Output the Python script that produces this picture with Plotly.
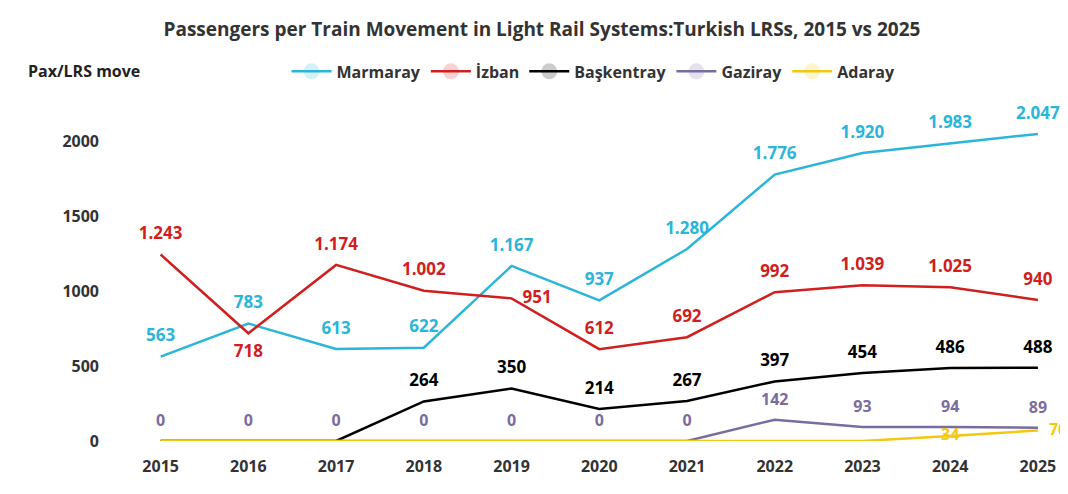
import plotly.graph_objects as go

years = list(range(2015, 2026))
marmaray = [563, 783, 613, 622, 1167, 937, 1280, 1776, 1920, 1983, 2047]
izban = [1243, 718, 1174, 1002, 951, 612, 692, 992, 1039, 1025, 940]
baskentray = [0, 0, 0, 264, 350, 214, 267, 397, 454, 486, 488]
gaziray = [0, 0, 0, 0, 0, 0, 0, 142, 93, 94, 89]
adaray = [0, 0, 0, 0, 0, 0, 0, 0, 0, 34, 70]


def fmt(v):
    return f"{v:,}".replace(",", ".")


series = [
    ("Marmaray", marmaray, "#2BB5DA", ["top center"] * 11, [fmt(v) for v in marmaray], 17),
    ("İzban", izban, "#D11E1E",
     ["top center", "bottom center", "top center", "top center", "middle right", "top center",
      "top center", "top center", "top center", "top center", "top center"],
     [fmt(v) for v in izban], 17),
    ("Başkentray", baskentray, "black", ["top center"] * 11,
     [fmt(v) if i >= 3 else "" for i, v in enumerate(baskentray)], 17),
    ("Gaziray", gaziray, "#7A6C9E", ["top center"] * 11, [fmt(v) for v in gaziray], 16),
    ("Adaray", adaray, "#F2C811", ["middle center"] * 9 + ["middle center", "middle right"],
     ["" if v == 0 else fmt(v) for v in adaray], 16),
]

fig = go.Figure()
for name, vals, color, pos, txt, fs in series:
    fig.add_trace(go.Scatter(
        x=years, y=vals, name=name, mode="lines+markers+text", text=txt, textposition=pos,
        line=dict(color=color, width=2.5),
        marker=dict(size=16, opacity=0, color=color),
        textfont=dict(color=color, size=fs, family="Open Sans", weight="bold"),
        cliponaxis=False,
    ))

fig.update_layout(
    width=1068, height=494,
    paper_bgcolor="white", plot_bgcolor="white",
    margin=dict(l=100, r=3, t=97, b=61),
    title=dict(text="<b>Passengers per Train Movement in Light Rail Systems:Turkish LRSs, 2015 vs 2025</b>",
               x=0.5, y=0.97, font=dict(size=19, color="#333", family="Open Sans")),
    font=dict(family="Open Sans", color="#333"),
    legend=dict(orientation="h", x=0.185, y=1.1, xanchor="left", yanchor="middle",
                font=dict(size=16, color="#333", weight="bold"), itemwidth=40),
    xaxis=dict(range=[2014.4, 2025.4], tickvals=years, showgrid=False, zeroline=False,
               ticklabelstandoff=14,
               tickfont=dict(size=16, color="#333", weight="bold")),
    yaxis=dict(range=[0, 2240], tickvals=[0, 500, 1000, 1500, 2000], showgrid=False, zeroline=False,
               tickfont=dict(size=16, color="#333", weight="bold"), ticklabelstandoff=8),
    annotations=[dict(text="<b>Pax/LRS move</b>", xref="paper", yref="paper", x=-0.085, y=1.1,
                      xanchor="left", yanchor="middle", showarrow=False,
                      font=dict(size=16, color="#222"))],
)
fig.write_html("out.html")
